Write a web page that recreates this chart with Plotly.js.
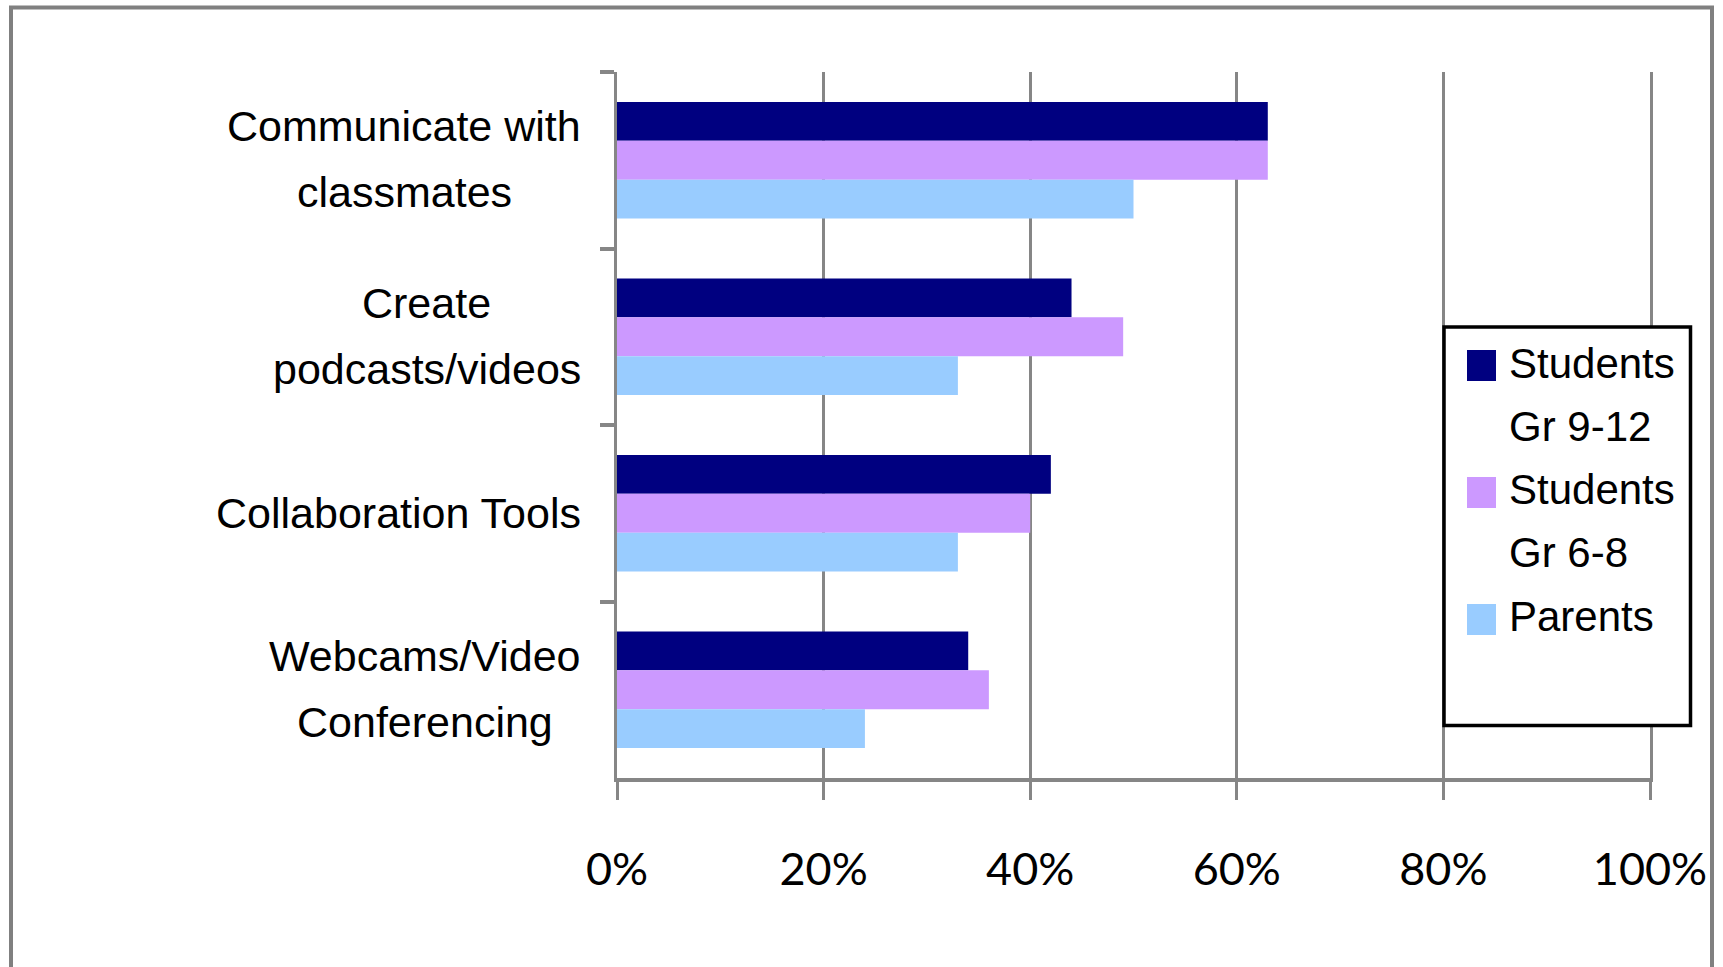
<!DOCTYPE html>
<html>
<head>
<meta charset="utf-8">
<script src="https://cdn.plot.ly/plotly-3.0.1.min.js"></script>
<style>
html, body { margin: 0; padding: 0; background: #ffffff; }
#chart { width: 1723px; height: 967px; }
</style>
</head>
<body>
<div id="chart"></div>
<script>
// ---- data ----
const categories = ["Communicate with classmates", "Create podcasts/videos", "Collaboration Tools", "Webcams/Video Conferencing"];
const categoryLines = [["Communicate with", "classmates"], ["Create", "podcasts/videos"], ["Collaboration Tools"], ["Webcams/Video", "Conferencing"]];
const seriesNames = ["Students Gr 9-12", "Students Gr 6-8", "Parents"];
const seriesLines = [["Students", "Gr 9-12"], ["Students", "Gr 6-8"], ["Parents"]];
const studentsGr9to12 = [63, 44, 42, 34];
const studentsGr6to8 = [63, 49, 40, 36];
const parents = [50, 33, 33, 24];
const xTickVals = [0, 20, 40, 60, 80, 100];
const xTickText = ["0%", "20%", "40%", "60%", "80%", "100%"];

// ---- styles / layout ----
const seriesValues = [studentsGr9to12, studentsGr6to8, parents];
const seriesColors = ["#000080", "#CC99FF", "#99CCFF"];
const W = 1723, H = 967;
const M = { l: 617, r: 73, t: 72, b: 189 };
const PW = W - M.l - M.r, PH = H - M.t - M.b;
const fx = px => (px - M.l) / PW;
const fy = py => (H - M.b - py) / PH;
const GRID = "#868686";
const catFont = "'Liberation Sans', Arial, sans-serif";
const catSize = 43;

const traces = seriesValues.map((vals, i) => ({
  type: "bar",
  orientation: "h",
  name: seriesNames[i],
  y: categories,
  x: vals,
  marker: { color: seriesColors[i], line: { width: 0 } },
  showlegend: false,
  hoverinfo: "x+y+name"
}));

// measure label widths to centre lines inside a right-aligned block
const cv = document.createElement("canvas").getContext("2d");
cv.font = catSize + "px " + catFont;
const labelRight = 581;
const annotations = [];
categoryLines.forEach((lines, ci) => {
  const maxW = Math.max(...lines.map(t => cv.measureText(t).width));
  const cx = labelRight - maxW / 2;
  const offs = lines.length === 1 ? [0] : [34, -32];
  lines.forEach((t, li) => {
    annotations.push({
      text: t, showarrow: false,
      xref: "paper", x: fx(cx), xanchor: "center",
      yref: "y", y: categories[ci], yanchor: "middle", yshift: offs[li],
      font: { family: catFont, size: catSize, color: "#000000" }
    });
  });
});

// custom legend
const shapes = [];
shapes.push({ type: "rect", xref: "paper", yref: "paper", layer: "below",
  x0: fx(11), x1: fx(1712), y0: fy(1010), y1: fy(7.5),
  line: { color: "#808080", width: 4 }, fillcolor: "rgba(0,0,0,0)" });
shapes.push({ type: "rect", xref: "paper", yref: "paper", layer: "above",
  x0: fx(1444), x1: fx(1690.5), y0: fy(725.5), y1: fy(327),
  line: { color: "#000000", width: 3.5 }, fillcolor: "#ffffff" });
seriesLines.forEach((lines, si) => {
  const top = 350 + si * 127;
  shapes.push({ type: "rect", xref: "paper", yref: "paper", layer: "above",
    x0: fx(1467), x1: fx(1496), y0: fy(top + 31), y1: fy(top),
    line: { width: 0 }, fillcolor: seriesColors[si] });
  lines.forEach((t, li) => {
    annotations.push({
      text: t, showarrow: false,
      xref: "paper", x: fx(1507), xanchor: "left",
      yref: "paper", y: fy(363 + si * 126.5 + li * 63.2), yanchor: "middle",
      font: { family: catFont, size: 42, color: "#000000" }
    });
  });
});

const layout = {
  width: W, height: H,
  margin: M,
  paper_bgcolor: "#ffffff",
  plot_bgcolor: "#ffffff",
  barmode: "group",
  bargap: 0.34,
  bargroupgap: 0,
  showlegend: false,
  xaxis: {
    range: [0, 100],
    tickmode: "array", tickvals: xTickVals, ticktext: xTickText,
    showgrid: true, gridcolor: GRID, gridwidth: 3,
    zeroline: false,
    showline: true, linecolor: GRID, linewidth: 4,
    ticks: "outside", ticklen: 18, tickwidth: 3, tickcolor: GRID,
    ticklabelstandoff: 31,
    tickfont: { family: "Lato, 'Liberation Sans', sans-serif", size: 45, color: "#000000" },
    fixedrange: true
  },
  yaxis: {
    type: "category",
    autorange: "reversed",
    showgrid: false, zeroline: false,
    showline: true, mirror: true, linecolor: GRID, linewidth: 3,
    ticks: "outside", tickson: "boundaries", ticklen: 14, tickwidth: 4, tickcolor: GRID,
    showticklabels: false,
    fixedrange: true
  },
  shapes: shapes,
  annotations: annotations
};

Plotly.newPlot("chart", traces, layout, { displayModeBar: false, staticPlot: true });
</script>
</body>
</html>
